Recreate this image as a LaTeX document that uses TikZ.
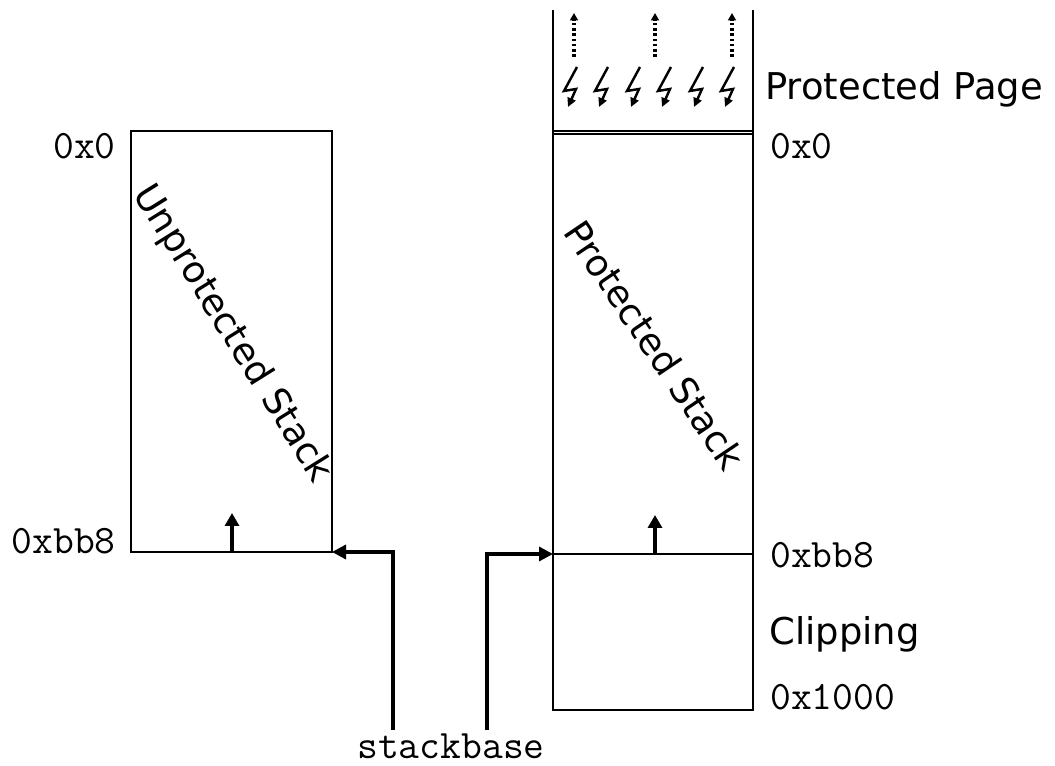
\documentclass[tikz,border=0pt]{standalone}
\usepackage{fontspec}
\setmainfont{DejaVu Sans}
\usetikzlibrary{arrows.meta,positioning}

\begin{document}
\begin{tikzpicture}[
  x=0.02cm,y=-0.02cm,
  frame/.style={draw=black,line width=0.8pt},
  arrow/.style={-{Triangle[length=2.8mm,width=2.8mm]},line width=1.9pt},
  growarrow/.style={-{Triangle[length=2.6mm,width=2.8mm]},line width=1.9pt},
  probe/.style={-{Triangle[length=1.5mm,width=1.6mm]},line width=1.8pt,dash pattern=on 1.5pt off 1.5pt},
  zap/.style={-{Triangle[length=1.8mm,width=1.7mm]},line width=1.4pt,line join=miter},
  addr/.style={font=\fontsize{23}{27}\selectfont\ttfamily,inner sep=0pt},
  tag/.style={font=\fontsize{21}{25}\selectfont,inner sep=0pt}
]
\useasboundingbox (0,0) rectangle (1055,766);
% unprotected stack
\draw[frame] (131,131) rectangle (332,552);
\coordinate (ubase) at (332,552);
\coordinate (umid) at (232,552);
\coordinate (utop) at (232,513);
\node[tag,rotate=-58] (unprot) at (232,334) {Unprotected Stack};
\node[addr,anchor=east] (uzero) at (116,146) {0x0};
\node[addr,anchor=east] (ubb8) at (116,541) {0xbb8};
\draw[growarrow] (umid) -- (utop);
% protected stack
\draw[frame] (553,10) -- (553,710) -- (753,710) -- (753,10);
\draw[frame] (553,131) -- (753,131);
\draw[frame] (553,134) -- (753,134);
\coordinate (pbase) at (553,554);
\coordinate (pend) at (753,554);
\coordinate (pmid) at (655,554);
\coordinate (ptop) at (655,515);
\draw[line width=1.4pt] (pbase) -- (pend);
\draw[growarrow] (pmid) -- (ptop);
\node[tag,rotate=-56] (prot) at (655,345) {Protected Stack};
% guard page
\foreach \x in {570,601,633,664,696,727}
  \draw[zap] (\x+7,67) -- (\x-6,91) -- (\x+6,89) -- (\x-2,107);
\foreach \x in {574,655,732} {
  \coordinate (lo\x) at (\x,57);
  \coordinate (hi\x) at (\x,13);
  \draw[probe] (lo\x) -- (hi\x);
}
\node[tag,anchor=west] (page) at (765,89) {Protected Page};
\node[addr,anchor=west] (pzero) at (770,146) {0x0};
\node[addr,anchor=west] (pbb8) at (770,555) {0xbb8};
\node[tag,anchor=west] (clip) at (769,634) {Clipping};
\node[addr,anchor=west] (pend1000) at (770,697) {0x1000};
% stackbase pointers
\node[addr,anchor=base] (stackbase) at (451,758) {stackbase};
\coordinate (sbl) at (393,730);
\coordinate (sbr) at (487,730);
\draw[arrow] (sbl) |- (ubase);
\draw[arrow] (sbr) |- (pbase);
\end{tikzpicture}
\end{document}
